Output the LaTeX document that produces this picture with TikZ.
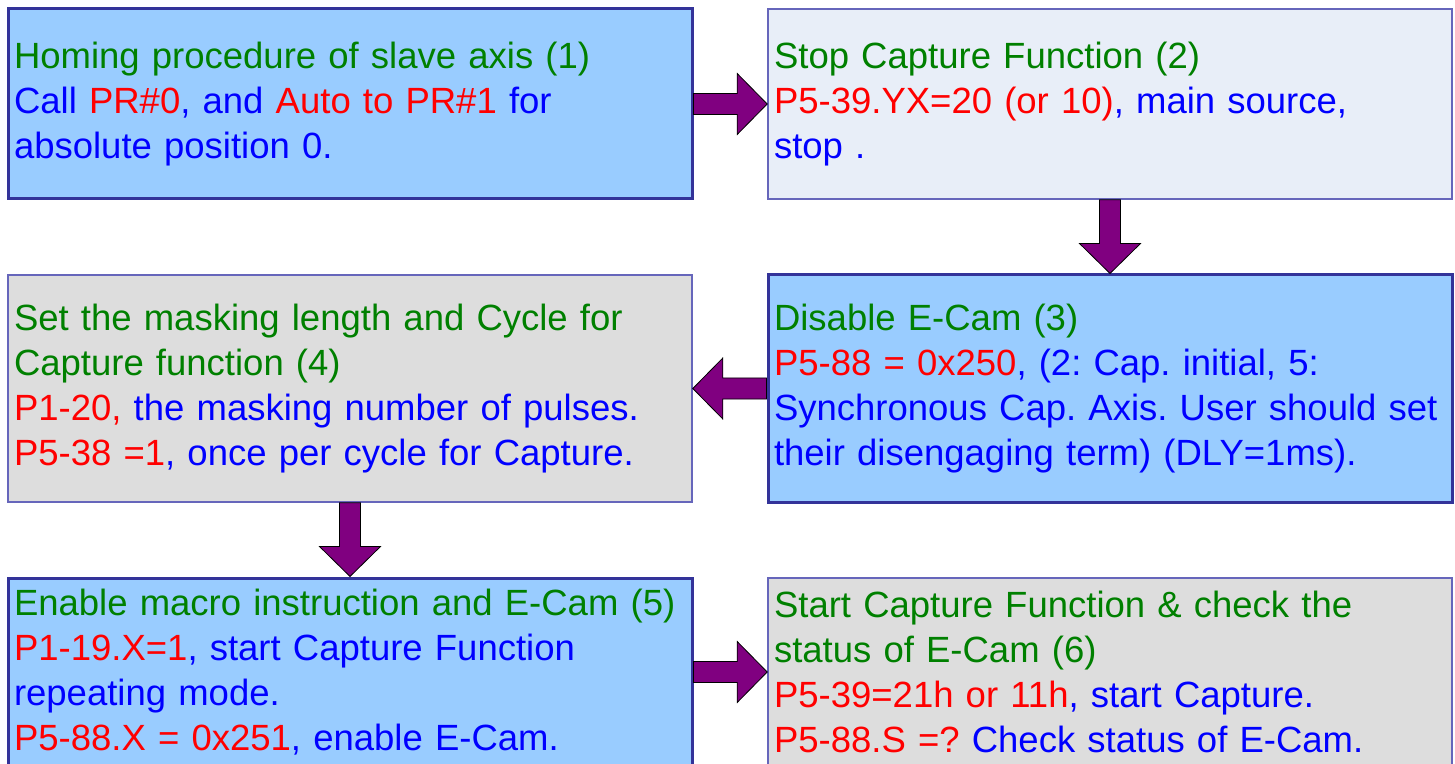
\documentclass[tikz,border=0pt]{standalone}
\usepackage{fontspec}
\setmainfont{Liberation Sans}
\usetikzlibrary{calc}

\definecolor{boxblue}{HTML}{99CCFF}
\definecolor{boxgrey}{HTML}{DDDDDD}
\definecolor{boxpale}{HTML}{E8EEF8}
\definecolor{edgedark}{HTML}{333399}
\definecolor{edgelight}{HTML}{6666BB}
\definecolor{titlegreen}{HTML}{008000}
\definecolor{textblue}{HTML}{0000FF}
\definecolor{paramred}{HTML}{FF0000}
\definecolor{arrowpurple}{HTML}{800080}

\newcommand{\steptitle}[1]{\textcolor{titlegreen}{#1}}
\newcommand{\param}[1]{\textcolor{paramred}{#1}}
\frenchspacing

\tikzset{
  procbox/.style={rectangle, text width=336pt, inner xsep=3pt, inner ysep=0pt,
    align=left, text=textblue, font=\fontsize{18.25}{22.5}\selectfont},
  bluebox/.style={procbox, fill=boxblue, draw=edgedark, line width=1.5pt},
  greybox/.style={procbox, fill=boxgrey, draw=edgelight, line width=0.8pt},
  palebox/.style={procbox, fill=boxpale, draw=edgelight, line width=0.8pt},
  % fat block arrow from start to target
  bigarrow/.style={draw=black, fill=arrowpurple, line width=0.4pt,
    to path={
      ($(\tikztostart)!5.25pt!90:(\tikztotarget)$)
      -- ($(\tikztotarget)!15pt!(\tikztostart)!5.25pt!90:(\tikztotarget)$)
      -- ($(\tikztotarget)!15pt!(\tikztostart)!15.25pt!90:(\tikztotarget)$)
      -- (\tikztotarget)
      -- ($(\tikztotarget)!15pt!(\tikztostart)!15.25pt!-90:(\tikztotarget)$)
      -- ($(\tikztotarget)!15pt!(\tikztostart)!5.25pt!-90:(\tikztotarget)$)
      -- ($(\tikztostart)!5.25pt!-90:(\tikztotarget)$)
      -- cycle}}
}

\begin{document}
\begin{tikzpicture}[x=0.5pt, y=-0.5pt]
    \useasboundingbox (0,0) rectangle (1455,764);
    \clip (0,0) rectangle (1455,764);

    % the six steps
    \node[bluebox, minimum height=95pt] (homing) at (350,104) {%
        \steptitle{Homing procedure of slave axis (1)}\\
        Call \param{PR\#0}, and \param{Auto to PR\#1} for\\
        absolute position 0.};
    \node[palebox, minimum height=95pt] (stopcap) at (1110,104) {%
        \steptitle{Stop Capture Function (2)}\\
        \param{P5-39.YX=20 (or 10)}, main source,\\
        stop .};
    \node[bluebox, minimum height=113.5pt] (disable) at (1110,388.5) {%
        \steptitle{Disable E-Cam (3)}\\
        \param{P5-88 = 0x250}, (2: Cap. initial, 5:\\
        Synchronous Cap. Axis. User should set\\
        their disengaging term) (DLY=1ms).};
    \node[greybox, minimum height=113.5pt] (masking) at (350,388.5) {%
        \steptitle{Set the masking length and Cycle for}\\
        \steptitle{Capture function (4)}\\
        \param{P1-20,} the masking number of pulses.\\
        \param{P5-38 =1}, once per cycle for Capture.};
    \node[bluebox, minimum height=94pt] (enable) at (350,672) {%
        \steptitle{Enable macro instruction and E-Cam (5)}\\
        \param{P1-19.X=1}, start Capture Function\\
        repeating mode.\\
        \param{P5-88.X = 0x251}, enable E-Cam.};
    \node[greybox, minimum height=94pt] (startcap) at (1110,672) {%
        \steptitle{Start Capture Function \& check the}\\
        \steptitle{status of E-Cam (6)}\\
        \param{P5-39=21h or 11h}, start Capture.\\
        \param{P5-88.S =?} Check status of E-Cam.};

    % flow between the steps
    \draw[bigarrow] (homing.east) to (stopcap.west);
    \draw[bigarrow] (stopcap.south) to (disable.north);
    \draw[bigarrow] (disable.west) to (masking.east);
    \draw[bigarrow] (masking.south) to (enable.north);
    \draw[bigarrow] (enable.east) to (startcap.west);
\end{tikzpicture}
\end{document}
